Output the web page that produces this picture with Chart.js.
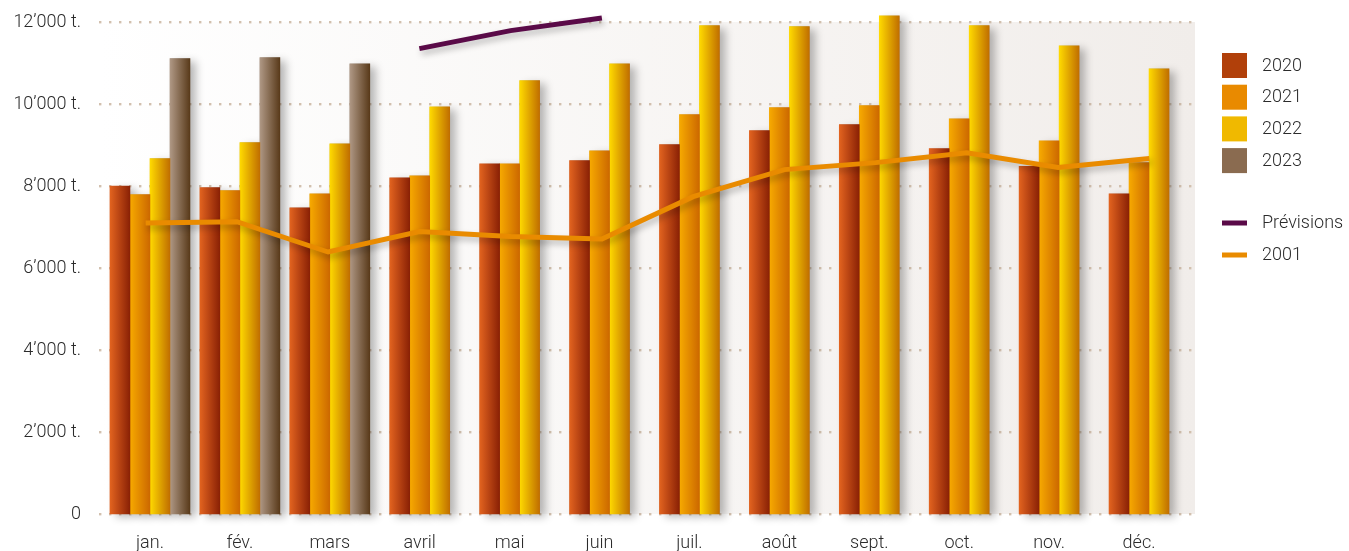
<!DOCTYPE html>
<html>
<head>
<meta charset="utf-8">
<script src="https://cdn.jsdelivr.net/npm/chart.js@4"></script>
<style>
  html, body { margin: 0; padding: 0; background: #fff; }
  #wrap { width: 1349px; height: 551px; position: relative; }
</style>
</head>
<body>
<div id="wrap"><canvas id="tonnage"></canvas></div>
<script>
// monthly tonnage
const months = ['jan.', 'fév.', 'mars', 'avril', 'mai', 'juin', 'juil.', 'août', 'sept.', 'oct.', 'nov.', 'déc.'];
const t2020 = [8000, 7960, 7470, 8200, 8540, 8620, 9010, 9350, 9500, 8910, 8480, 7810];
const t2021 = [7790, 7890, 7810, 8250, 8540, 8860, 9740, 9910, 9960, 9640, 9100, 8570];
const t2022 = [8670, 9060, 9030, 9930, 10570, 10980, 11910, 11890, 12150, 11910, 11420, 10860];
const t2023 = [11110, 11130, 10980, null, null, null, null, null, null, null, null, null];
const previsions = [null, null, null, 11350, 11790, 12100, null, null, null, null, null, null];
const t2001 = [7100, 7130, 6390, 6890, 6770, 6710, 7740, 8400, 8570, 8810, 8450, 8670];
const yTicks = [0, 2000, 4000, 6000, 8000, 10000, 12000];

const FONT = 'Roboto, "Liberation Sans", sans-serif';

// left / right shade of each bar series, plus flat legend colour
const barStyles = [
    {label: '2020', data: t2020, light: '#e2631f', dark: '#8a2105', flat: '#b1400a'},
    {label: '2021', data: t2021, light: '#f7aa00', dark: '#cc6800', flat: '#e98a00'},
    {label: '2022', data: t2022, light: '#ffda00', dark: '#c06e00', flat: '#f0b900'},
    {label: '2023', data: t2023, light: '#af9885', dark: '#593a1a', flat: '#8a6b50'},
];

function isBar(chart, di) {
    return chart.getDatasetMeta(di).type === 'bar';
}

// the shaded plot box is a bit wider than the bar area
function plotBox(a) {
    return {left: a.left - 5, right: a.right + 11};
}

const decor = {
    id: 'decor',
    beforeDraw(chart) {
        const {ctx, chartArea: a} = chart;
        const {left, right} = plotBox(a);
        const g = ctx.createLinearGradient(left, 0, right, 0);
        g.addColorStop(0, '#ffffff');
        g.addColorStop(1, '#f1edea');
        ctx.save();
        ctx.fillStyle = g;
        ctx.fillRect(left, a.top, right - left, a.bottom - a.top);
        // dotted horizontal grid
        const y = chart.scales.y;
        ctx.fillStyle = '#d2c0ae';
        y.ticks.forEach(t => {
            const py = Math.round(y.getPixelForValue(t.value));
            for (let x = left; x <= right; x += 10) {
                ctx.fillRect(x - 1, py - 1, 2.4, 2.4);
            }
        });
        ctx.restore();
    },
    afterDatasetsUpdate(chart) {
        // horizontal gradient on every bar
        const ctx = chart.ctx;
        chart.data.datasets.forEach((ds, di) => {
            if (!isBar(chart, di)) return;
            const st = barStyles[di];
            chart.getDatasetMeta(di).data.forEach(el => {
                if (!isFinite(el.y) || !isFinite(el.x)) return;
                const x0 = el.x - el.width / 2;
                const g = ctx.createLinearGradient(x0, 0, x0 + el.width, 0);
                g.addColorStop(0, st.light);
                g.addColorStop(1, st.dark);
                el.options = Object.assign({}, el.options, {backgroundColor: g});
            });
        });
    },
    beforeDatasetsDraw(chart) {
        // soft shadows behind the bars, painted before any bar
        const ctx = chart.ctx;
        ctx.save();
        ctx.shadowColor = 'rgba(0,0,0,0.28)';
        ctx.shadowBlur = 9;
        ctx.shadowOffsetX = 6;
        ctx.shadowOffsetY = 3;
        ctx.fillStyle = '#999';
        chart.data.datasets.forEach((ds, di) => {
            if (!isBar(chart, di)) return;
            chart.getDatasetMeta(di).data.forEach(el => {
                if (!isFinite(el.y) || !isFinite(el.x)) return;
                ctx.fillRect(el.x - el.width / 2, el.y, el.width, el.base - el.y);
            });
        });
        ctx.restore();
    },
    beforeDatasetDraw(chart, args) {
        if (isBar(chart, args.index)) return;
        const ctx = chart.ctx;
        const a = chart.chartArea;
        const box = plotBox(a);
        // lines are spread over the whole shaded box, not the bar area
        const k = (box.right - box.left) / (a.right - a.left);
        ctx.save();
        ctx.translate(box.left - a.left * k, 0);
        ctx.scale(k, 1);
        ctx.shadowColor = 'rgba(0,0,0,0.25)';
        ctx.shadowBlur = 6;
        ctx.shadowOffsetX = 2;
        ctx.shadowOffsetY = 4;
    },
    afterDatasetDraw(chart, args) {
        if (isBar(chart, args.index)) return;
        chart.ctx.restore();
    },
    afterDraw(chart) {
        const ctx = chart.ctx;
        const lx = chart.chartArea.right + 38;
        ctx.save();
        ctx.font = '300 18px ' + FONT;
        ctx.textBaseline = 'middle';
        ctx.textAlign = 'left';
        let yy = 53;
        barStyles.forEach(st => {
            ctx.fillStyle = st.flat;
            ctx.fillRect(lx, yy, 25, 25);
            ctx.fillStyle = '#2b2b2b';
            ctx.fillText(st.label, lx + 40, yy + 13);
            yy += 31.7;
        });
        yy = 223;
        chart.data.datasets.filter(d => d.type === 'line').forEach(d => {
            ctx.fillStyle = d.borderColor;
            ctx.fillRect(lx, yy - 2.5, 25, 5);
            ctx.fillStyle = '#2b2b2b';
            ctx.fillText(d.label, lx + 40, yy);
            yy += 32;
        });
        ctx.restore();
    }
};

const barSets = barStyles.map(st => ({
    label: st.label,
    data: st.data,
    backgroundColor: () => st.flat,
    borderWidth: 0,
    barThickness: 20,
    skipNull: true,
    clip: false,
}));

new Chart(document.getElementById('tonnage'), {
    type: 'bar',
    plugins: [decor],
    data: {
        labels: months,
        datasets: [
            ...barSets,
            {
                type: 'line',
                label: 'Prévisions',
                data: previsions,
                borderColor: '#5a0a48',
                borderWidth: 5,
                pointRadius: 0,
                tension: 0,
                clip: false,
                order: -1,
            },
            {
                type: 'line',
                label: '2001',
                data: t2001,
                borderColor: '#e98b00',
                borderWidth: 5,
                pointRadius: 0,
                tension: 0,
                clip: false,
                order: -1,
            },
        ]
    },
    options: {
        responsive: true,
        maintainAspectRatio: false,
        animation: false,
        layout: {padding: {top: 22, right: 165, bottom: 0, left: 0}},
        plugins: {legend: {display: false}, tooltip: {enabled: false}},
        scales: {
            x: {
                grid: {display: false, drawTicks: false},
                border: {display: false},
                ticks: {font: {family: FONT, size: 18, weight: '300'}, color: '#2b2b2b', padding: 19},
                afterFit: s => { s.height = 37; },
            },
            y: {
                min: 0,
                max: 12000,
                afterBuildTicks: s => { s.ticks = yTicks.map(v => ({value: v})); },
                grid: {display: false, drawTicks: false},
                border: {display: false},
                ticks: {
                    font: {family: FONT, size: 18, weight: '300'},
                    color: '#2b2b2b',
                    padding: 24,
                    callback: v => v === 0 ? '0' : (v / 1000) + '’000 t.',
                },
                afterFit: s => {
                    s.width = 105;
                    s.paddingTop = 0;
                    s.paddingBottom = 0;
                },
            }
        }
    }
});
</script>
</body>
</html>
